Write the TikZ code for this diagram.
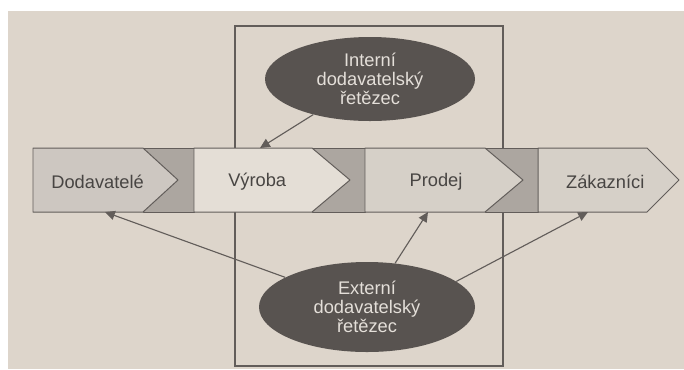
\documentclass[tikz,border=0pt]{standalone}
\usepackage{fontspec}
\setmainfont{Liberation Sans}
\usepackage{xcolor}
\usetikzlibrary{shapes,shapes.geometric,arrows.meta,positioning,backgrounds}
\pgfdeclarelayer{edgelayer}
\pgfdeclarelayer{nodelayer}
\pgfsetlayers{background,edgelayer,nodelayer,main}
\definecolor{paper}{RGB}{221,213,203}
\definecolor{lineg}{RGB}{98,93,90}
\definecolor{darkband}{RGB}{172,166,160}
\definecolor{boxa}{RGB}{205,199,193}
\definecolor{boxb}{RGB}{228,222,214}
\definecolor{boxc}{RGB}{214,208,200}
\definecolor{ovalg}{RGB}{88,83,80}
\definecolor{ovaltxt}{RGB}{228,223,217}
\definecolor{stagetxt}{RGB}{72,69,67}
\tikzstyle{none}=[inner sep=0mm]
\tikzstyle{stagetext}=[inner sep=0mm,text=stagetxt,font={\fontsize{13pt}{13.5pt}\selectfont}]
\tikzstyle{ovalnode}=[ellipse,fill=ovalg,text=ovaltxt,inner sep=0mm,align=center,font={\fontsize{13pt}{13.5pt}\selectfont}]
\tikzstyle{band}=[draw=lineg,line width=0.7pt,line join=round]
\tikzstyle{frame}=[draw=lineg,line width=0.8pt]
\tikzstyle{ptr}=[draw=lineg,line width=0.8pt,-{Triangle[length=7pt,width=6.5pt]}]

\begin{document}
\begin{tikzpicture}
	\begin{pgfonlayer}{background}
		\fill[white] (0,0) rectangle (17.1,-9.225);
		\fill[paper] (0.2,-0.275) rectangle (17.1,-9.225);
		\draw[frame] (5.875,-0.65) rectangle (12.575,-9.15);
		% dark joints
		\filldraw[band,fill=darkband] (3.575,-3.7) rectangle (4.85,-5.3);
		\filldraw[band,fill=darkband] (7.8,-3.7) rectangle (9.125,-5.3);
		\filldraw[band,fill=darkband] (12.125,-3.7) rectangle (13.45,-5.3);
		% stages
		\filldraw[band,fill=boxa] (0.825,-3.7) -- (3.575,-3.7) -- (4.45,-4.5) -- (3.575,-5.3) -- (0.825,-5.3) -- cycle;
		\filldraw[band,fill=boxb] (4.85,-3.7) -- (7.8,-3.7) -- (8.75,-4.5) -- (7.8,-5.3) -- (4.85,-5.3) -- cycle;
		\filldraw[band,fill=boxc] (9.125,-3.7) -- (12.125,-3.7) -- (13.075,-4.5) -- (12.125,-5.3) -- (9.125,-5.3) -- cycle;
		\filldraw[band,fill=boxc] (13.45,-3.7) -- (16.175,-3.7) -- (16.975,-4.5) -- (16.175,-5.3) -- (13.45,-5.3) -- cycle;
	\end{pgfonlayer}
	\begin{pgfonlayer}{nodelayer}
		\node [style=stagetext] (1) at (2.44, -4.55) {Dodavatelé};
		\node [style=stagetext] (2) at (6.43, -4.55) {Výroba};
		\node [style=stagetext] (3) at (10.9, -4.55) {Prodej};
		\node [style=stagetext] (4) at (15.13, -4.55) {Zákazníci};
		\node [style=ovalnode,minimum width=5.25cm,minimum height=2.1cm] (5) at (9.25, -1.975) {Interní\\dodavatelský\\řetězec};
		\node [style=ovalnode,minimum width=5.4cm,minimum height=2.25cm] (6) at (9.175, -7.675) {Externí\\dodavatelský\\řetězec};
		\coordinate (7) at (6.5, -3.7);
		\coordinate (8) at (2.625, -5.3);
		\coordinate (9) at (10.7, -5.3);
		\coordinate (10) at (14.7, -5.3);
	\end{pgfonlayer}
	\begin{pgfonlayer}{edgelayer}
		\draw[style=ptr] (5) to (7);
		\draw[style=ptr] (6) to (8);
		\draw[style=ptr] (6) to (9);
		\draw[style=ptr] (6.16) to (10);
	\end{pgfonlayer}
\end{tikzpicture}
\end{document}
